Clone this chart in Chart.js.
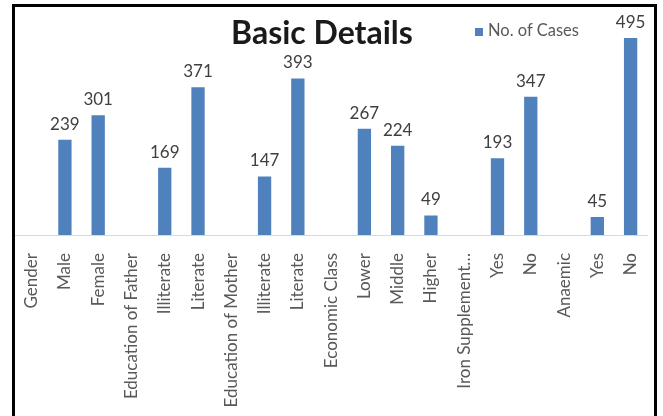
<!DOCTYPE html>
<html lang="en">
  <head>
    <meta charset="UTF-8" />
    <title>Basic Details</title>
    <style>
      body {
        margin: 0;
        background-color: white;
        overflow: hidden;
        font-family: Lato, sans-serif;
      }
      #frame {
        position: absolute;
        left: 12px;
        top: 4px;
        width: 639px;
        height: 470px;
        border: 3px solid black;
      }
      #bar-chart {
        position: absolute;
        left: 0;
        top: 0;
      }
      #title {
        position: absolute;
        left: 0;
        top: 5px;
        width: 614px;
        text-align: center;
        font-weight: bold;
        font-size: 32px;
        color: #1a1a1a;
      }
      #legend {
        position: absolute;
        left: 460px;
        top: 13px;
        font-size: 16.5px;
        color: #595959;
      }
      #legend span {
        display: inline-block;
        width: 8px;
        height: 8px;
        background-color: #4f81bd;
        margin-right: 5px;
      }
    </style>
  </head>
  <body>
    <script src="https://cdn.jsdelivr.net/npm/chart.js@4"></script>
    <div id="frame">
      <canvas id="bar-chart" width="646" height="470"></canvas>
      <div id="title">Basic Details</div>
      <div id="legend"><span></span>No. of Cases</div>
    </div>
    <script>
      var categories = [
        "Gender", "Male", "Female",
        "Education of Father", "Illiterate", "Literate",
        "Education of Mother", "Illiterate", "Literate",
        "Economic Class", "Lower", "Middle", "Higher",
        "Iron Supplement\u2026", "Yes", "No",
        "Anaemic", "Yes", "No"
      ];
      var cases = [
        null, 239, 301,
        null, 169, 371,
        null, 147, 393,
        null, 267, 224, 49,
        null, 193, 347,
        null, 45, 495
      ];

      // numbers above the bars
      var valueLabels = {
        id: "valueLabels",
        afterDatasetsDraw: function (chart) {
          var ctx = chart.ctx;
          var meta = chart.getDatasetMeta(0);
          ctx.save();
          ctx.font = "17px Lato";
          ctx.fillStyle = "#404040";
          ctx.textAlign = "center";
          ctx.textBaseline = "bottom";
          meta.data.forEach(function (bar, i) {
            if (cases[i] == null) return;
            ctx.fillText(cases[i], bar.x, bar.y - 7);
          });
          ctx.restore();
        },
      };

      var chart = new Chart(document.getElementById("bar-chart"), {
        type: "bar",
        data: {
          labels: categories,
          datasets: [
            {
              label: "No. of Cases",
              backgroundColor: "#4f81bd",
              data: cases,
              barPercentage: 0.4,
              categoryPercentage: 1,
            },
          ],
        },
        options: {
          responsive: false,
          animation: false,
          layout: { padding: { left: 0, right: 0, top: 5, bottom: 0 } },
          plugins: {
            legend: { display: false },
            title: { display: false },
            tooltip: { enabled: false },
          },
          scales: {
            x: {
              grid: { display: false },
              border: { color: "#d9d9d9" },
              ticks: {
                autoSkip: false,
                minRotation: 90,
                maxRotation: 90,
                padding: 10,
                color: "#595959",
                font: { family: "Lato", size: 17 },
              },
              afterFit: function (scale) {
                scale.height = 242;
              },
            },
            y: {
              display: false,
              min: 0,
              max: 560,
            },
          },
        },
        plugins: [valueLabels],
      });
    </script>
  </body>
</html>
